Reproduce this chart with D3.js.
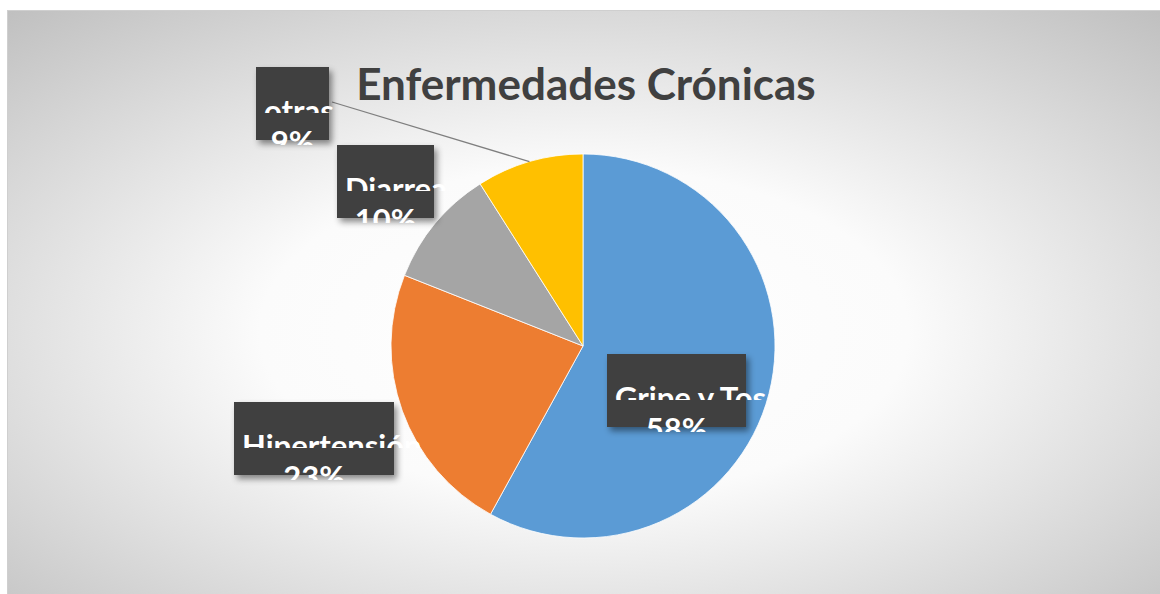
<!DOCTYPE html>
<html>
<head>
<meta charset="utf-8">
<script src="https://cdn.jsdelivr.net/npm/d3@7"></script>
<style>
  body { margin: 0; background: #fff; }
  svg { display: block; }
</style>
</head>
<body>
<div id="chart"></div>
<script>
// chart data
const categories = ['Gripe y Tos', 'Hipertensión', 'Diarrea', 'otras']
const values = [58, 23, 10, 9]
const colors = ['#5b9bd5', '#ed7d31', '#a5a5a5', '#ffc000']
const title = 'Enfermedades Crónicas'

let svgWidth = 1160,
  svgHeight = 594
let cx = 583,
  cy = 346,
  radius = 192

// label boxes, offset from pie centre (x, y, width)
const labelBoxes = [
  { dx: 24, dy: 8, w: 139 },
  { dx: -349, dy: 56, w: 160 },
  { dx: -246, dy: -201, w: 97 },
  { dx: -327, dy: -279, w: 73 },
]
const boxH = 73

let svg = d3
  .select('#chart')
  .append('svg')
  .attr('width', svgWidth)
  .attr('height', svgHeight)

let defs = svg.append('defs')

let grad = defs
  .append('radialGradient')
  .attr('id', 'bg')
  .attr('cx', '50%')
  .attr('cy', '55%')
  .attr('r', '74%')
grad.append('stop').attr('offset', '0%').attr('stop-color', '#ffffff')
grad.append('stop').attr('offset', '38%').attr('stop-color', '#fbfbfb')
grad.append('stop').attr('offset', '100%').attr('stop-color', '#c0c0c0')

let shadow = defs
  .append('filter')
  .attr('id', 'shadow')
  .attr('x', '-20%')
  .attr('y', '-20%')
  .attr('width', '150%')
  .attr('height', '150%')
shadow
  .append('feDropShadow')
  .attr('dx', 3)
  .attr('dy', 4)
  .attr('stdDeviation', 3)
  .attr('flood-color', '#000')
  .attr('flood-opacity', 0.45)

// background + border
svg
  .append('rect')
  .attr('x', 7.5)
  .attr('y', 10.5)
  .attr('width', svgWidth - 7)
  .attr('height', svgHeight - 10)
  .attr('fill', 'url(#bg)')
  .attr('stroke', '#cfcfcf')
  .attr('stroke-width', 1)

// title
svg
  .append('text')
  .attr('x', 586)
  .attr('y', 100)
  .attr('text-anchor', 'middle')
  .attr('font-family', 'Lato, sans-serif')
  .attr('font-weight', 'bold')
  .attr('font-size', 44)
  .attr('fill', '#404040')
  .text(title)

// pie
let data = categories.map((c, i) => ({ name: c, value: values[i], color: colors[i] }))
let total = d3.sum(values)

let pie = d3
  .pie()
  .sort(null)
  .value((d) => d.value)
let arc = d3.arc().innerRadius(0).outerRadius(radius)
let arcs = pie(data)

let g = svg.append('g').attr('transform', 'translate(' + cx + ',' + cy + ')')

g.selectAll('path')
  .data(arcs)
  .enter()
  .append('path')
  .attr('d', arc)
  .attr('fill', (d) => d.data.color)
  .attr('stroke', '#fff')
  .attr('stroke-width', 0.8)

// leader line for the last slice (otras)
let last = arcs[3]
let mid = (last.startAngle + last.endAngle) / 2
let lb = labelBoxes[3]
g.append('line')
  .attr('x1', lb.dx + lb.w + 3)
  .attr('y1', lb.dy + 35)
  .attr('x2', Math.sin(mid) * radius)
  .attr('y2', -Math.cos(mid) * radius)
  .attr('stroke', '#7f7f7f')
  .attr('stroke-width', 1.3)

// data labels
arcs.forEach((a, i) => {
  let b = labelBoxes[i]
  let bx = cx + b.dx,
    by = cy + b.dy
  let pct = Math.round((a.data.value / total) * 100) + '%'

  svg
    .append('rect')
    .attr('x', bx)
    .attr('y', by)
    .attr('width', b.w)
    .attr('height', boxH)
    .attr('fill', '#404040')
    .attr('filter', 'url(#shadow)')

  // each text line only shows its upper part
  let lines = [
    { text: a.data.name, top: by + 33, show: 13, x: bx + 8, anchor: 'start' },
    { text: pct, top: by + 64, show: 14, x: bx + b.w / 2, anchor: 'middle' },
  ]
  lines.forEach((l, j) => {
    let id = 'clip' + i + '_' + j
    defs
      .append('clipPath')
      .attr('id', id)
      .append('rect')
      .attr('x', bx - 20)
      .attr('y', l.top - 12)
      .attr('width', b.w + 120)
      .attr('height', l.show + 12)
    svg
      .append('text')
      .attr('clip-path', 'url(#' + id + ')')
      .attr('x', l.x)
      .attr('y', l.top + 22)
      .attr('text-anchor', l.anchor)
      .attr('font-family', 'Lato, sans-serif')
      .attr('font-weight', 'bold')
      .attr('font-size', 31)
      .attr('fill', '#fff')
      .text(l.text)
  })
})
</script>
</body>
</html>
